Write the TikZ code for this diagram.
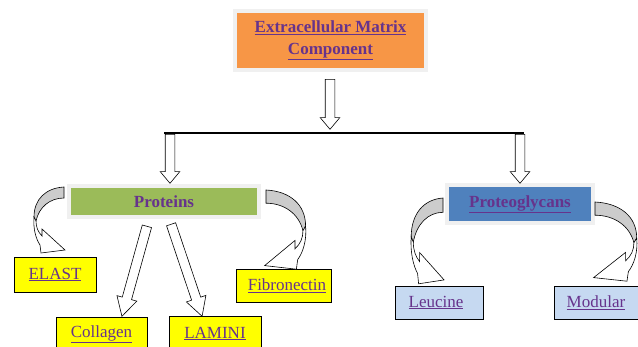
\documentclass[tikz,border=0pt]{standalone}
\usepackage{fontspec}
\setmainfont{Liberation Serif}
\usetikzlibrary{shapes.arrows,calc}

\definecolor{ecmorange}{RGB}{247,150,70}
\definecolor{protgreen}{RGB}{155,187,89}
\definecolor{pgblue}{RGB}{79,129,189}
\definecolor{leafyellow}{RGB}{255,255,0}
\definecolor{leafblue}{RGB}{198,217,241}
\definecolor{labelpurple}{RGB}{102,51,140}
\definecolor{framegray}{RGB}{240,240,240}
\definecolor{ribbongray}{RGB}{204,204,204}

\tikzset{
  headbox/.style={draw=framegray, line width=4pt, text=labelpurple, align=center, inner sep=0pt,
    font=\fontsize{17}{22}\selectfont\bfseries},
  leafbox/.style={draw=black, line width=0.9pt, text=labelpurple, inner sep=0pt,
    font=\fontsize{17}{22}\selectfont},
  blockarrow/.style={single arrow, draw=black, fill=white, line width=0.6pt, inner xsep=0pt,
    inner ysep=4.5pt, single arrow head extend=5pt, single arrow tip angle=80},
  slantarrow/.style={single arrow head extend=5.5pt, single arrow tip angle=58},
}

% straight block arrow from one named point to another
\newcommand\fatarrow[3][]{%
  \path let \p1=(#2), \p2=(#3), \n1={atan2(\y2-\y1,\x2-\x1)}, \n2={veclen(\x2-\x1,\y2-\y1)} in
    node[blockarrow, #1, minimum height=\n2, rotate=\n1, anchor=tail] at (\p1) {};}

% curved ribbon arrow, drawn at its start point
\newcommand\curlarrow[1]{%
  \begin{scope}[#1]
    \filldraw[fill=ribbongray, line width=0.6pt] (0,0) .. controls (-18,1) and (-30,12) .. (-30,30)
      -- (-28,34) .. controls (-25,20) and (-14,11) .. (0,11) -- cycle;
    \filldraw[fill=white, line width=0.6pt] (-30,30) .. controls (-31,42) and (-28,52) .. (-24,58)
      -- (-23,66) -- (1,63) -- (-22,42) -- (-22,49) .. controls (-26,45) and (-28,40) .. (-28,34) -- cycle;
  \end{scope}}

\begin{document}
\begin{tikzpicture}[x=1pt, y=-1pt]
  \useasboundingbox (0,0) rectangle (638,346);

  \node[headbox, fill=ecmorange, minimum width=191pt, minimum height=59pt] (ecm) at (330.5,40.5)
    {\underline{Extracellular Matrix}\\\underline{Component}};
  \node[headbox, fill=protgreen, minimum width=190pt, minimum height=31pt] (proteins) at (164,201.5) {Proteins};
  \node[headbox, fill=pgblue, minimum width=146pt, minimum height=38pt] (glycans) at (520,204) {\underline{Proteoglycans}};

  \node[leafbox, fill=leafyellow, minimum width=82pt, minimum height=35pt] (elast) at (55,274.5) {\underline{ELAST}};
  \node[leafbox, fill=leafyellow, minimum width=91pt, minimum height=34pt] (collagen) at (101.5,334) {\underline{Collagen}};
  \node[leafbox, fill=leafyellow, minimum width=92pt, minimum height=35pt] (lamini) at (215,333.5) {\underline{LAMINI}};
  \node[leafbox, fill=leafyellow, minimum width=95pt, minimum height=33pt] (fibro) at (283.5,285.5) {\hspace*{7pt}\underline{Fibronectin}};
  \node[leafbox, fill=leafblue, minimum width=88pt, minimum height=33pt] (leucine) at (439,302.5) {\underline{Leucine}\hspace*{6pt}};
  \node[leafbox, fill=leafblue, minimum width=84pt, minimum height=33pt] (modular) at (596,302.5) {\underline{Modular}};

  \coordinate (barL) at (164,133);
  \coordinate (barR) at (524,133);
  \draw[line width=2.8pt] (barL) -- (barR);

  \coordinate (ecmout) at (330,79);
  \coordinate (barin) at (330,129);
  \coordinate (leftout) at (170,134);
  \coordinate (leftin) at (170,183);
  \coordinate (rightout) at (520,134);
  \coordinate (rightin) at (520,183);
  \coordinate (colout) at (147,226);
  \coordinate (colin) at (122,316);
  \coordinate (lamout) at (171,224);
  \coordinate (lamin) at (202,316);

  \fatarrow{ecmout}{barin}
  \fatarrow{leftout}{leftin}
  \fatarrow{rightout}{rightin}
  \fatarrow[slantarrow]{colout}{colin}
  \fatarrow[slantarrow]{lamout}{lamin}

  \curlarrow{shift={(64,187)}}
  \curlarrow{shift={(266,190)}, xscale=-1.32, yscale=1.2}
  \curlarrow{shift={(443,198)}, xscale=1.06, yscale=1.3}
  \curlarrow{shift={(595,202)}, xscale=-1.39, yscale=1.2}
\end{tikzpicture}
\end{document}
